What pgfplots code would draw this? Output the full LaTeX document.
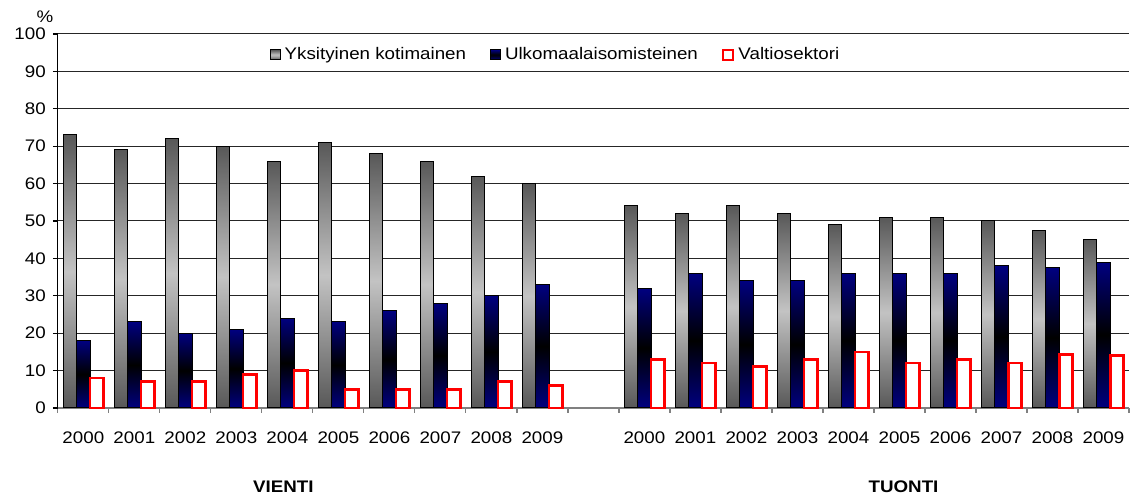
\documentclass[border=0pt]{standalone}
\usepackage{pgfplots}
\usepackage{pgfplotstable}
\pgfplotsset{compat=1.18}
\usepackage{fontspec}
\setmainfont{Liberation Sans}[FakeStretch=1.12]
\definecolor{navyb}{RGB}{0,0,128}
\definecolor{gdark}{RGB}{88,88,88}
\definecolor{glight}{RGB}{195,195,195}
\pgfplotstableread{
x  g    b    r
0  73   18   8
1  69   23   7
2  72   20   7
3  70   21   9
4  66   24   10
5  71   23   5
6  68   26   5
7  66   28   5
8  62   30   7
9  60   33   6
11 54   32   13
12 52   36   12
13 54   34   11
14 52   34   13
15 49   36   15
16 51   36   12
17 51   36   13
18 50   38   12
19 47.5 37.5 14.3
20 45   39   14
}\datatable
\tikzset{
  gbar/.style={draw=black, line width=0.5pt, top color=gdark, bottom color=gdark, middle color=glight},
  bbar/.style={draw=black, line width=0.5pt, top color=navyb, bottom color=navyb, middle color=black},
  rbar/.style={draw=red, line width=1.3pt, fill=white},
}
\begin{document}
\begin{tikzpicture}
\begin{axis}[
  scale only axis, width=537pt, height=187.5pt,
  xmin=-0.5, xmax=20.5, ymin=0, ymax=100,
  clip=false,
  ytick={0,10,...,100},
  ymajorgrids, grid style={black!85, line width=0.5pt},
  axis x line*=bottom, axis y line*=left,
  x axis line style={gray, -, line width=0.6pt},
  y axis line style={black, -, line width=0.6pt},
  xtick={0,1,2,3,4,5,6,7,8,9,11,12,13,14,15,16,17,18,19,20},
  xticklabels={2000,2001,2002,2003,2004,2005,2006,2007,2008,2009,2000,2001,2002,2003,2004,2005,2006,2007,2008,2009},
  minor xtick={-0.5,0.5,...,20.5},
  major x tick style={draw=none},
  minor x tick style={gray, line width=0.6pt},
  major y tick style={black, line width=0.6pt},
  tick align=outside, major tick length=2.5pt, minor tick length=2.5pt,
  /pgf/number format/assume math mode=true,
  ticklabel style={font=\fontsize{8.4}{10}\selectfont},
  xticklabel style={yshift=-6pt},
  legend style={at={(0.4655,0.944)}, anchor=center, draw=none, fill=none,
    legend columns=3, font=\fontsize{8.4}{10}\selectfont,
    /tikz/every even column/.append style={column sep=10pt}},
  legend image code/.code={\draw[#1] (0pt,-2.5pt) rectangle (5pt,2.5pt);},
]
\addlegendimage{gbar}
\addlegendentry{Yksityinen kotimainen}
\addlegendimage{bbar}
\addlegendentry{Ulkomaalaisomisteinen}
\addlegendimage{rbar}
\addlegendentry{Valtiosektori}
\pgfplotsinvokeforeach{0,1,2,3,4,5,6,7,8,9,11,12,13,14,15,16,17,18,19,20}{
  \addplot[ybar, bar width=6.75pt, bar shift=-6.75pt, gbar, forget plot,
    restrict x to domain=#1:#1]
    table[x=x, y=g] \datatable;
  \addplot[ybar, bar width=6.75pt, bar shift=0pt, bbar, forget plot,
    restrict x to domain=#1:#1]
    table[x=x, y=b] \datatable;
  \addplot[ybar, bar width=6.75pt, bar shift=6.75pt, rbar, forget plot,
    restrict x to domain=#1:#1]
    table[x=x, y=r] \datatable;
}
\node[font=\fontsize{8.4}{10}\selectfont\bfseries] at (axis cs:3.92,-21.1) {VIENTI};
\node[font=\fontsize{8.4}{10}\selectfont\bfseries] at (axis cs:16.08,-21.1) {TUONTI};
\node[font=\fontsize{8.4}{10}\selectfont] at (axis cs:-0.754,104.5) {\%};
\path (axis cs:-1.634,-23.47) rectangle (axis cs:20.5,109.07);
\end{axis}
\end{tikzpicture}
\end{document}
